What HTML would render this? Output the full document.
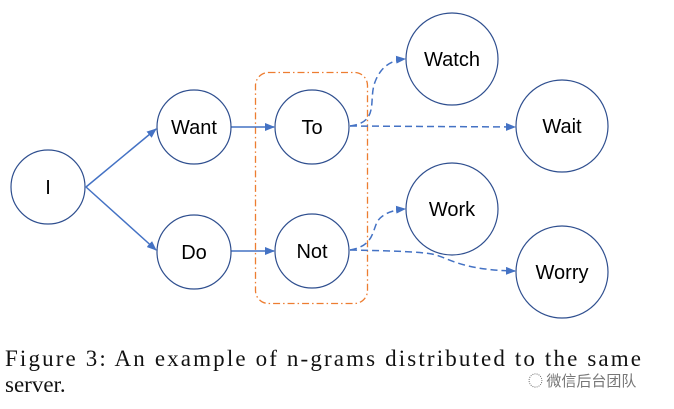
<!DOCTYPE html>
<html><head><meta charset="utf-8"><style>
html,body{margin:0;padding:0;background:#fff;width:674px;height:409px;overflow:hidden}
svg{display:block}
</style></head><body>
<svg width="674" height="409" viewBox="0 0 674 409" xmlns="http://www.w3.org/2000/svg">
<defs>
<marker id="a" markerWidth="10" markerHeight="8" refX="9" refY="4" orient="auto" markerUnits="userSpaceOnUse">
<path d="M0,0 L10,4 L0,8 z" fill="#4472c4"/></marker>
</defs>
<rect x="255.5" y="72.5" width="112" height="231" rx="13" fill="none" stroke="#ed7d31" stroke-width="1.3" stroke-dasharray="7,3,1.5,3"/>
<g stroke="#4472c4" stroke-width="1.5" fill="none">
<line x1="86" y1="187" x2="156" y2="129" marker-end="url(#a)"/>
<line x1="86" y1="187" x2="156" y2="250" marker-end="url(#a)"/>
<line x1="231" y1="127" x2="274" y2="127" marker-end="url(#a)"/>
<line x1="231" y1="251" x2="274" y2="251" marker-end="url(#a)"/>
<g stroke-dasharray="7,4">
<path d="M350,126 C380,122 368,100 375,82 C381,66 392,60 405,59" marker-end="url(#a)"/>
<path d="M350,126 L515,127" marker-end="url(#a)"/>
<path d="M350,250 C372,246 372,234 377,222 C382,214 392,210 405,209" marker-end="url(#a)"/>
<path d="M350,250 C400,251 420,252 432,254 C450,258 460,270 515,271" marker-end="url(#a)"/>
</g>
</g>
<g fill="#fff" stroke="#2f4f8f" stroke-width="1.2">
<circle cx="48" cy="187" r="37"/>
<circle cx="194" cy="127" r="37"/>
<circle cx="194" cy="252" r="37"/>
<circle cx="312" cy="127" r="37"/>
<circle cx="312" cy="251" r="37"/>
<circle cx="452" cy="59" r="46"/>
<circle cx="562" cy="126" r="46"/>
<circle cx="452" cy="209" r="46"/>
<circle cx="562" cy="272" r="46"/>
</g>
<g font-family="'Liberation Sans',sans-serif" font-size="20" text-anchor="middle" fill="#000">
<text x="48" y="194">I</text>
<text x="194" y="134">Want</text>
<text x="194" y="259">Do</text>
<text x="312" y="134">To</text>
<text x="312" y="258">Not</text>
<text x="452" y="66">Watch</text>
<text x="562" y="133">Wait</text>
<text x="452" y="216">Work</text>
<text x="562" y="279">Worry</text>
</g>
<g font-family="'Liberation Serif',serif" font-size="23" fill="#111">
<text x="5" y="366" textLength="636" lengthAdjust="spacing">Figure 3:  An example of n-grams distributed to the same</text>
<text x="5" y="392">server.</text>
</g>
<text x="528" y="386" font-family="'Noto Sans CJK SC',sans-serif" font-size="15" fill="#777">◌ 微信后台团队</text>
</svg>
</body></html>
